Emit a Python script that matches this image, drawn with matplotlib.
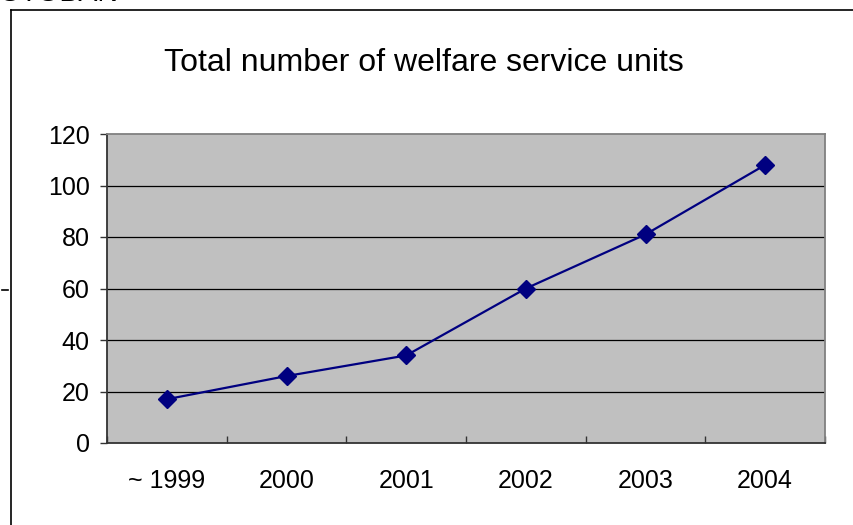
import matplotlib
matplotlib.use("Agg")
import matplotlib.pyplot as plt
from matplotlib.lines import Line2D

categories = ["~ 1999", "2000", "2001", "2002", "2003", "2004"]
values = [17, 26, 34, 60, 81, 108]
yticks = [0, 20, 40, 60, 80, 100, 120]
title = "Total number of welfare service units"

plt.rcParams['font.family'] = ['Liberation Sans', 'DejaVu Sans']

W, H = 854, 525
fig = plt.figure(figsize=(W / 100, H / 100), dpi=100)
fig.patch.set_facecolor('white')

# outer chart border (left and top visible)
fig.add_artist(Line2D([11 / W, 11 / W], [0, 1 - 10 / H], transform=fig.transFigure, color='black', lw=1.2))
fig.add_artist(Line2D([11 / W, 1], [1 - 10 / H, 1 - 10 / H], transform=fig.transFigure, color='black', lw=1.2))
# small dash at left
fig.add_artist(Line2D([2 / W, 8 / W], [1 - 290 / H, 1 - 290 / H], transform=fig.transFigure, color='black', lw=1.2))
# cut-off text at top
fig.text(-0.002, 1 + 6 / H, "OTOBAN", fontsize=20.5, ha='left', va='center', color='black')

ax = fig.add_axes([107 / W, 1 - 443 / H, (825 - 107) / W, (443 - 134) / H])
ax.set_facecolor('#C0C0C0')
x = list(range(len(categories)))
ax.plot(x, values, color='#000080', lw=1.6, marker='D', markersize=9, zorder=3)

ax.set_xlim(-0.5, len(categories) - 0.5)
ax.set_ylim(yticks[0], yticks[-1])
ax.set_yticks(yticks)
ax.set_yticklabels([str(v) for v in yticks])
for yv in yticks[1:-1]:
    ax.axhline(yv, color='black', lw=0.9, zorder=1)

ax.set_xticks(x)
ax.set_xticklabels(categories)
ax.set_xticks([i - 0.5 for i in range(len(categories) + 1)], minor=True)
ax.tick_params(axis='x', which='major', length=0, pad=19, labelsize=18)
ax.tick_params(axis='x', which='minor', direction='in', length=5, width=1, color='#333333')
ax.tick_params(axis='y', direction='out', length=5, width=1, color='#333333', pad=7.5, labelsize=18)

for s in ['left', 'bottom']:
    ax.spines[s].set_color('#333333')
    ax.spines[s].set_linewidth(1.3)
for s in ['top', 'right']:
    ax.spines[s].set_color('#808080')
    ax.spines[s].set_linewidth(1.3)

fig.text(424 / W, 1 - 63 / H, title, fontsize=23, ha='center', va='center', color='black')

fig.savefig("out.png", dpi=100, facecolor='white')
